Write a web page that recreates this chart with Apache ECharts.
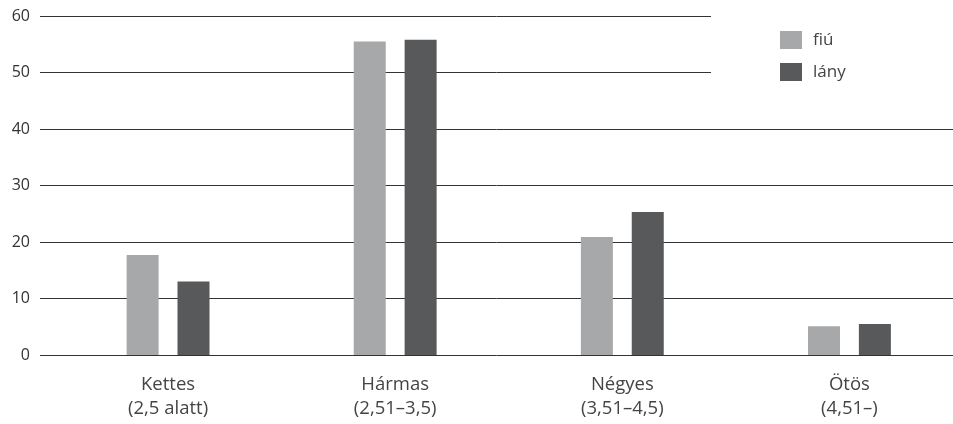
<!DOCTYPE html>
<html><head><meta charset="utf-8">
<script src="https://cdn.jsdelivr.net/npm/echarts@6/dist/echarts.min.js"></script>
<style>html,body{margin:0;padding:0;background:#fff;overflow:hidden}#c{width:963px;height:424px}</style>
</head><body><div id="c"></div>
<script>
const categories = ['Kettes\n(2,5 alatt)', 'Hármas\n(2,51–3,5)', 'Négyes\n(3,51–4,5)', 'Ötös\n(4,51–)'];
const fiu = [17.7, 55.5, 20.9, 5.1];
const lany = [13.0, 55.8, 25.3, 5.5];
const yTicks = [0, 10, 20, 30, 40, 50, 60];
const FONT = 'Open Sans';
const chart = echarts.init(document.getElementById('c'), null, {renderer: 'canvas'});
chart.setOption({
  animation: false,
  backgroundColor: '#fff',
  textStyle: {fontFamily: FONT},
  grid: [
    {left: 40, right: 10, top: 16, bottom: 69},
    {left: 54.5, right: 0, top: 16, bottom: 69}
  ],
  legend: {
    orient: 'vertical', left: 775, top: 26,
    itemWidth: 22, itemHeight: 18, itemGap: 14, icon: 'rect',
    textStyle: {fontFamily: FONT, fontSize: 17, color: '#444', padding: [0,0,0,6]},
    data: ['fiú', 'lány'], z: 10
  },
  graphic: [{type: 'rect', shape: {x: 711, y: 0, width: 252, height: 100}, style: {fill: '#fff'}, z: 3}],
  xAxis: [
    {gridIndex: 0, type: 'value', min: 0, max: 1, show: false},
    {gridIndex: 1, type: 'category', data: categories,
     axisLine: {show: false}, axisTick: {show: false},
     axisLabel: {margin: 18, fontFamily: FONT, fontSize: 18.5, lineHeight: 24, color: '#444'}}
  ],
  yAxis: [
    {gridIndex: 0, type: 'value', min: 0, max: 60, interval: 10,
     axisLine: {show: false}, axisTick: {show: false},
     axisLabel: {margin: 10, fontFamily: FONT, fontSize: 16, color: '#333',
       formatter: v => yTicks.includes(v) ? String(v) : ''},
     splitLine: {lineStyle: {color: '#333', width: 1}}},
    {gridIndex: 1, type: 'value', min: 0, max: 60, interval: 10, show: false}
  ],
  series: [
    {name: 'fiú', type: 'bar', xAxisIndex: 1, yAxisIndex: 1, data: fiu,
     barWidth: 32, barGap: '59%', itemStyle: {color: '#a7a8aa'}, z: 5},
    {name: 'lány', type: 'bar', xAxisIndex: 1, yAxisIndex: 1, data: lany,
     barWidth: 32, barGap: '59%', itemStyle: {color: '#58595b'}, z: 5}
  ]
});
</script></body></html>
